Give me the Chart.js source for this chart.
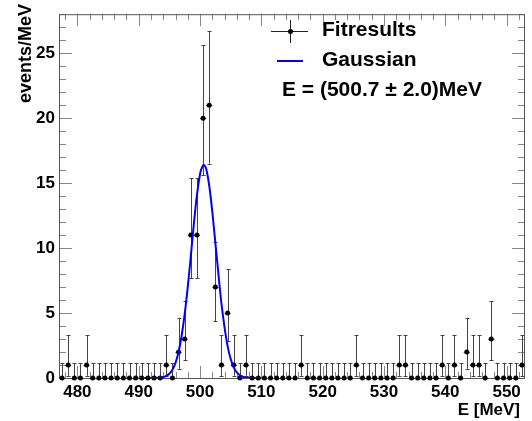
<!DOCTYPE html>
<html>
<head>
<meta charset="utf-8">
<script src="https://cdn.jsdelivr.net/npm/chart.js@4/dist/chart.umd.min.js"></script>
<style>
  html, body { margin: 0; padding: 0; background: #fff; }
  #wrap { width: 532px; height: 421px; }
</style>
</head>
<body>
<div id="wrap"><canvas id="histo" width="532" height="421"></canvas></div>
<script>
// bin centres of the 1 MeV histogram
const binCenters = [
    477.5, 478.5, 479.5, 480.5, 481.5, 482.5, 483.5, 484.5, 485.5, 486.5,
    487.5, 488.5, 489.5, 490.5, 491.5, 492.5, 493.5, 494.5, 495.5, 496.5,
    497.5, 498.5, 499.5, 500.5, 501.5, 502.5, 503.5, 504.5, 505.5, 506.5,
    507.5, 508.5, 509.5, 510.5, 511.5, 512.5, 513.5, 514.5, 515.5, 516.5,
    517.5, 518.5, 519.5, 520.5, 521.5, 522.5, 523.5, 524.5, 525.5, 526.5,
    527.5, 528.5, 529.5, 530.5, 531.5, 532.5, 533.5, 534.5, 535.5, 536.5,
    537.5, 538.5, 539.5, 540.5, 541.5, 542.5, 543.5, 544.5, 545.5, 546.5,
    547.5, 548.5, 549.5, 550.5, 551.5, 552.5
];
const counts = [
    0, 1, 0, 0, 1, 0, 0, 0, 0, 0,
    0, 0, 0, 0, 0, 0, 0, 1, 0, 2,
    3, 11, 11, 20, 21, 7, 1, 5, 1, 0,
    1, 0, 0, 0, 0, 0, 0, 0, 0, 1,
    0, 0, 0, 0, 0, 0, 0, 0, 1, 0,
    0, 0, 0, 0, 0, 1, 1, 0, 0, 0,
    0, 0, 1, 0, 1, 0, 2, 1, 1, 0,
    3, 0, 0, 0, 0, 1
];
// error bar ends, per count value
const errCounts = [0, 1, 2, 3, 5, 7, 11, 20, 21];
const errLow    = [0, 0.17, 0.71, 1.37, 2.84, 4.35, 7.7, 15.6, 16.5];
const errHigh   = [1.15, 3.3, 4.64, 5.92, 8.38, 10.5, 15.4, 25.6, 26.7];

// gaussian fit curve
const fitX = [490, 492, 493, 494, 494.5, 495, 495.5, 496, 496.5, 497, 497.5, 498, 498.5, 499, 499.5,
              500, 500.3, 500.6, 501, 501.5, 502, 502.5, 503, 503.5, 504, 504.5, 505, 505.5, 506,
              506.5, 507, 507.5, 508, 509, 510];
const fitY = [0, 0, 0.01, 0.07, 0.16, 0.33, 0.64, 1.16, 2.0, 3.25, 4.93, 7.0, 9.4, 11.9, 14.1,
              15.7, 16.2, 16.4, 16.1, 14.8, 12.8, 10.4, 8.0, 5.7, 3.9, 2.45, 1.46, 0.82, 0.43,
              0.21, 0.1, 0.04, 0.02, 0, 0];

const xTicks = [480, 490, 500, 510, 520, 530, 540, 550];
const yTicks = [0, 5, 10, 15, 20, 25];
const xMin = 477, xMax = 553, yMin = 0, yMax = 28;

const labelFont = { family: 'Liberation Sans', size: 17, weight: 'bold' };

const pointData = binCenters.map((x, i) => ({ x: x, y: counts[i] }));
const fitData = fitX.map((x, i) => ({ x: x, y: fitY[i] }));

function errFor(n) {
    const k = errCounts.indexOf(n);
    return [errLow[k], errHigh[k]];
}

// frame, inward ticks (ROOT style) and error bars
const rootStyle = {
    id: 'rootStyle',
    beforeDatasetsDraw(chart) {
        const ctx = chart.ctx;
        const xs = chart.scales.x, ys = chart.scales.y;
        const a = chart.chartArea;
        ctx.save();

        // ticks
        ctx.strokeStyle = '#888';
        ctx.lineWidth = 1;
        ctx.beginPath();
        for (let v = 478; v <= 552; v += 2) {
            const px = Math.round(xs.getPixelForValue(v)) + 0.5;
            const len = (v % 10 === 0) ? 12 : 6;
            ctx.moveTo(px, a.bottom); ctx.lineTo(px, a.bottom - len);
            ctx.moveTo(px, a.top); ctx.lineTo(px, a.top + len);
        }
        for (let v = 0; v <= 28; v += 1) {
            const py = Math.round(ys.getPixelForValue(v)) + 0.5;
            const len = (v % 5 === 0) ? 13 : 7;
            ctx.moveTo(a.left, py); ctx.lineTo(a.left + len, py);
            ctx.moveTo(a.right, py); ctx.lineTo(a.right - len, py);
        }
        ctx.stroke();

        // frame
        ctx.strokeStyle = '#555';
        ctx.strokeRect(a.left + 0.5, a.top + 0.5, a.right - a.left - 1, a.bottom - a.top);

        // error bars
        ctx.strokeStyle = '#444';
        ctx.beginPath();
        binCenters.forEach((x, i) => {
            const e = errFor(counts[i]);
            const px = Math.round(xs.getPixelForValue(x)) + 0.5;
            const py = ys.getPixelForValue(counts[i]);
            const pLo = ys.getPixelForValue(e[0]);
            const pHi = ys.getPixelForValue(e[1]);
            ctx.moveTo(px, pLo); ctx.lineTo(px, pHi);
            ctx.moveTo(px - 2, Math.round(pHi) + 0.5); ctx.lineTo(px + 2, Math.round(pHi) + 0.5);
            if (counts[i] > 0) {
                ctx.moveTo(px - 2, Math.round(pLo) + 0.5); ctx.lineTo(px + 2, Math.round(pLo) + 0.5);
            }
            const x0 = xs.getPixelForValue(x - 0.5), x1 = xs.getPixelForValue(x + 0.5);
            ctx.moveTo(x0, Math.round(py) + 0.5); ctx.lineTo(x1, Math.round(py) + 0.5);
        });
        ctx.stroke();
        ctx.restore();
    },
    afterDraw(chart) {
        const ctx = chart.ctx;
        ctx.save();
        ctx.fillStyle = '#000';
        ctx.font = 'bold 17px "Liberation Sans"';
        ctx.textAlign = 'right';
        ctx.textBaseline = 'alphabetic';
        ctx.fillText('E [MeV]', 520, 415);

        ctx.save();
        ctx.translate(31, 4);
        ctx.rotate(-Math.PI / 2);
        ctx.font = 'bold 18px "Liberation Sans"';
        ctx.textAlign = 'right';
        ctx.fillText('events/MeV', 0, 0);
        ctx.restore();

        // legend
        ctx.strokeStyle = '#222';
        ctx.lineWidth = 1;
        ctx.beginPath();
        ctx.moveTo(271, 31.5); ctx.lineTo(308, 31.5);
        ctx.moveTo(290.5, 20); ctx.lineTo(290.5, 43);
        ctx.stroke();
        ctx.beginPath();
        ctx.arc(290.5, 31.5, 2.5, 0, Math.PI * 2);
        ctx.fill();

        ctx.strokeStyle = '#0000ff';
        ctx.lineWidth = 2;
        ctx.beginPath();
        ctx.moveTo(277, 61); ctx.lineTo(303, 61);
        ctx.stroke();

        ctx.font = 'bold 21px "Liberation Sans"';
        ctx.textAlign = 'left';
        ctx.fillText('Fitresults', 322, 36);
        ctx.fillText('Gaussian', 322, 66);
        ctx.fillText('E = (500.7 \u00b1 2.0)MeV', 282, 96);
        ctx.restore();
    }
};

new Chart(document.getElementById('histo').getContext('2d'), {
    type: 'scatter',
    data: {
        datasets: [{
            type: 'line',
            label: 'Gaussian',
            data: fitData,
            borderColor: '#0000ff',
            borderWidth: 2,
            pointRadius: 0,
            fill: false,
            tension: 0.3,
            order: 0
        }, {
            label: 'Fitresults',
            data: pointData,
            backgroundColor: '#000',
            borderColor: '#000',
            pointRadius: 2.5,
            pointBorderWidth: 0,
            clip: false,
            order: 1
        }]
    },
    options: {
        responsive: false,
        animation: false,
        layout: { padding: { left: 0, right: 7, top: 4, bottom: 0 } },
        plugins: {
            legend: { display: false },
            tooltip: { enabled: false }
        },
        scales: {
            x: {
                type: 'linear',
                min: xMin,
                max: xMax,
                grid: { display: false, drawTicks: false },
                border: { display: false },
                ticks: { font: labelFont, color: '#000', padding: 4, maxRotation: 0 },
                afterBuildTicks: (s) => { s.ticks = xTicks.map(v => ({ value: v })); },
                afterFit: (s) => { s.height = 43; }
            },
            y: {
                min: yMin,
                max: yMax,
                grid: { display: false, drawTicks: false },
                border: { display: false },
                ticks: { font: labelFont, color: '#000', padding: 4 },
                afterBuildTicks: (s) => { s.ticks = yTicks.map(v => ({ value: v })); },
                afterFit: (s) => { s.width = 59; }
            }
        }
    },
    plugins: [rootStyle]
});
</script>
</body>
</html>
